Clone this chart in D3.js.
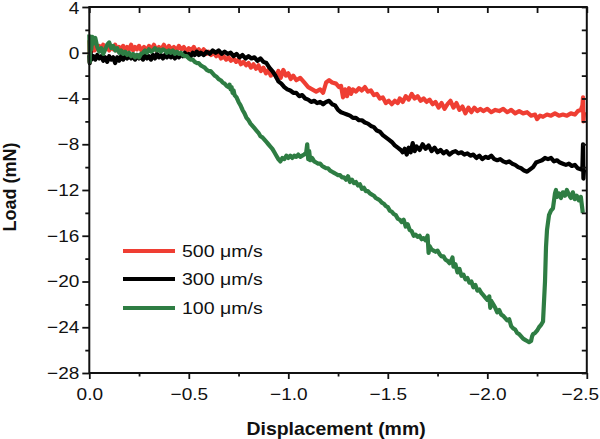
<!DOCTYPE html>
<html>
<head>
<meta charset="utf-8">
<script src="https://cdn.jsdelivr.net/npm/d3@7"></script>
<style>
  html, body { margin: 0; padding: 0; background: #fff; }
  svg { display: block; }
  text { font-family: "Liberation Sans", Arial, sans-serif; fill: #111; }
</style>
</head>
<body>
<svg id="chart" width="600" height="439"></svg>
<script>
// ---------------- data ----------------
const seriesNames = ["500 \u03bcm/s", "300 \u03bcm/s", "100 \u03bcm/s"];
const seriesColors = ["#ef3e33", "#000000", "#2e7d43"];

const disp500 = [0.000,0.002,0.005,0.010,0.018,0.026,0.034,0.042,0.050,0.060,0.070,0.080,0.090,0.100,0.110,0.120,0.130,0.140,0.150,0.160,0.170,0.180,0.190,0.200,0.210,0.220,0.230,0.240,0.250,0.262,0.275,0.288,0.300,0.312,0.325,0.338,0.350,0.362,0.375,0.388,0.400,0.412,0.425,0.438,0.450,0.462,0.475,0.488,0.500,0.512,0.525,0.538,0.550,0.562,0.575,0.588,0.600,0.612,0.625,0.638,0.650,0.662,0.675,0.688,0.700,0.712,0.725,0.738,0.750,0.762,0.775,0.788,0.800,0.812,0.825,0.838,0.850,0.862,0.875,0.888,0.900,0.912,0.925,0.938,0.950,0.962,0.975,0.988,1.000,1.012,1.025,1.040,1.060,1.080,1.100,1.120,1.140,1.160,1.175,1.190,1.205,1.220,1.240,1.255,1.265,1.275,1.285,1.295,1.305,1.315,1.325,1.340,1.355,1.370,1.385,1.400,1.415,1.430,1.445,1.460,1.475,1.490,1.505,1.520,1.535,1.550,1.560,1.575,1.590,1.605,1.620,1.635,1.650,1.665,1.680,1.695,1.710,1.725,1.740,1.755,1.770,1.785,1.800,1.815,1.830,1.845,1.860,1.875,1.890,1.905,1.920,1.935,1.950,1.965,1.980,2.000,2.020,2.040,2.060,2.080,2.100,2.120,2.140,2.160,2.180,2.200,2.220,2.240,2.250,2.265,2.280,2.300,2.320,2.340,2.360,2.380,2.400,2.420,2.440,2.455,2.470,2.478,2.481,2.483,2.486];
const load500 = [1.1,-0.8,0.9,0.1,0.6,0.2,0.7,0.3,0.6,0.2,0.7,0.3,0.5,0.2,0.6,0.3,0.7,0.2,0.5,0.3,0.6,0.2,0.5,0.3,0.7,0.2,0.5,0.3,0.6,0.2,0.5,0.2,0.6,0.3,0.7,0.2,0.5,0.3,0.7,0.2,0.6,0.3,0.5,0.2,0.6,0.3,0.5,0.1,0.4,0.2,0.5,0.1,0.3,0.0,0.3,-0.1,0.1,-0.2,0.0,-0.3,-0.1,-0.5,-0.3,-0.6,-0.4,-0.7,-0.5,-0.8,-0.6,-1.0,-0.8,-1.1,-0.9,-1.3,-1.0,-1.4,-1.1,-1.6,-1.3,-1.8,-1.5,-2.0,-1.7,-2.1,-1.6,-2.2,-1.5,-2.0,-1.8,-2.3,-2.0,-2.4,-2.2,-2.6,-3.0,-3.2,-3.4,-3.2,-3.5,-2.6,-2.4,-2.6,-2.7,-3.0,-2.9,-3.9,-3.2,-3.8,-3.1,-3.6,-3.2,-3.4,-3.1,-3.3,-3.0,-3.4,-3.3,-3.7,-3.6,-4.0,-3.9,-4.4,-4.2,-4.5,-4.2,-4.4,-4.0,-4.3,-3.8,-4.1,-3.6,-4.0,-3.8,-4.2,-4.0,-4.3,-4.1,-4.5,-4.3,-4.8,-4.4,-4.9,-4.5,-4.2,-4.8,-4.4,-5.0,-4.7,-5.3,-4.8,-5.2,-4.8,-5.1,-4.9,-5.1,-4.9,-5.2,-5.0,-5.1,-4.9,-5.2,-5.0,-5.3,-5.1,-5.3,-5.2,-5.5,-5.4,-5.8,-5.5,-5.6,-5.4,-5.5,-5.3,-5.5,-5.4,-5.5,-5.3,-5.4,-5.1,-5.0,-4.6,-3.9,-6.0,-5.2];

const disp300 = [0.000,0.002,0.005,0.010,0.020,0.030,0.040,0.050,0.060,0.070,0.080,0.090,0.100,0.110,0.120,0.130,0.140,0.150,0.160,0.170,0.180,0.190,0.200,0.210,0.220,0.230,0.240,0.250,0.260,0.270,0.280,0.290,0.300,0.310,0.320,0.330,0.340,0.350,0.360,0.370,0.380,0.390,0.400,0.410,0.420,0.430,0.440,0.450,0.460,0.470,0.480,0.490,0.500,0.510,0.520,0.530,0.540,0.550,0.560,0.575,0.590,0.605,0.620,0.635,0.650,0.665,0.680,0.695,0.710,0.725,0.740,0.755,0.770,0.785,0.800,0.815,0.830,0.845,0.860,0.875,0.890,0.905,0.920,0.935,0.950,0.965,0.980,0.995,1.010,1.025,1.040,1.055,1.070,1.085,1.100,1.115,1.130,1.145,1.160,1.175,1.190,1.205,1.220,1.235,1.250,1.265,1.280,1.295,1.310,1.325,1.340,1.355,1.370,1.385,1.400,1.415,1.430,1.445,1.460,1.475,1.490,1.505,1.520,1.535,1.550,1.565,1.575,1.585,1.595,1.605,1.615,1.625,1.635,1.645,1.660,1.675,1.690,1.705,1.720,1.735,1.750,1.765,1.780,1.795,1.810,1.825,1.840,1.855,1.870,1.885,1.900,1.915,1.930,1.945,1.960,1.975,1.990,2.005,2.020,2.035,2.050,2.065,2.080,2.095,2.110,2.125,2.140,2.155,2.170,2.185,2.200,2.215,2.230,2.245,2.260,2.275,2.290,2.305,2.320,2.335,2.350,2.365,2.380,2.395,2.410,2.425,2.440,2.455,2.470,2.478,2.481,2.483,2.486];
const load300 = [-0.2,-0.9,0.3,-0.6,-0.3,-0.6,-0.2,-0.5,-0.3,-0.7,-0.4,-0.8,-0.3,-0.6,-0.4,-0.9,-0.4,-0.7,-0.3,-0.6,-0.3,-0.5,-0.2,-0.5,-0.3,-0.6,-0.2,-0.5,-0.3,-0.6,-0.2,-0.5,-0.3,-0.6,-0.2,-0.5,-0.1,-0.4,-0.2,-0.5,-0.2,-0.4,-0.1,-0.4,-0.2,-0.5,-0.2,-0.4,-0.1,-0.3,0.0,-0.3,-0.1,-0.3,0.0,-0.2,0.1,-0.2,0.0,-0.2,0.1,-0.1,0.2,0.0,0.2,-0.1,0.1,-0.1,0.0,-0.3,-0.1,-0.4,-0.2,-0.5,-0.3,-0.5,-0.4,-0.7,-0.5,-0.8,-0.9,-1.3,-1.6,-2.0,-2.5,-2.7,-3.0,-3.2,-3.3,-3.5,-3.5,-3.8,-3.7,-4.0,-4.1,-4.3,-4.2,-4.4,-4.3,-4.5,-4.3,-4.2,-4.5,-4.6,-5.0,-5.2,-5.3,-5.4,-5.5,-5.7,-5.7,-5.9,-5.9,-6.1,-6.2,-6.4,-6.5,-6.8,-6.9,-7.2,-7.4,-7.6,-7.8,-8.1,-8.3,-8.5,-8.7,-8.4,-8.9,-8.3,-8.7,-7.9,-8.6,-8.2,-8.5,-8.0,-8.4,-8.1,-8.6,-8.3,-8.7,-8.5,-8.8,-8.6,-8.9,-8.7,-8.6,-8.8,-8.7,-8.9,-8.8,-9.0,-8.9,-9.2,-9.0,-9.3,-9.1,-9.2,-9.0,-9.3,-9.4,-9.3,-9.5,-9.6,-9.5,-9.7,-9.8,-10.0,-10.1,-10.3,-10.4,-10.2,-10.0,-9.6,-9.5,-9.4,-9.2,-9.3,-9.2,-9.5,-9.4,-9.6,-9.7,-9.8,-9.7,-9.9,-9.8,-10.1,-10.2,-10.0,-8.0,-11.0,-10.2];

const disp100 = [0.000,0.002,0.005,0.010,0.015,0.020,0.030,0.040,0.050,0.060,0.070,0.080,0.090,0.100,0.110,0.120,0.130,0.140,0.150,0.160,0.170,0.180,0.190,0.200,0.210,0.220,0.230,0.240,0.250,0.260,0.270,0.280,0.290,0.300,0.310,0.320,0.330,0.340,0.350,0.360,0.370,0.380,0.390,0.400,0.410,0.420,0.430,0.440,0.450,0.460,0.470,0.480,0.490,0.500,0.510,0.520,0.530,0.540,0.550,0.560,0.570,0.580,0.590,0.600,0.610,0.620,0.630,0.640,0.650,0.660,0.670,0.680,0.690,0.700,0.705,0.710,0.715,0.720,0.725,0.730,0.740,0.750,0.760,0.770,0.780,0.790,0.800,0.810,0.820,0.830,0.840,0.850,0.860,0.870,0.880,0.890,0.900,0.910,0.920,0.930,0.940,0.950,0.960,0.970,0.980,0.990,1.000,1.010,1.020,1.030,1.040,1.050,1.060,1.070,1.080,1.090,1.095,1.100,1.105,1.110,1.120,1.130,1.140,1.150,1.160,1.170,1.180,1.190,1.200,1.210,1.220,1.230,1.240,1.250,1.260,1.270,1.280,1.290,1.300,1.310,1.320,1.330,1.340,1.350,1.360,1.370,1.380,1.390,1.400,1.410,1.420,1.430,1.440,1.450,1.460,1.470,1.480,1.490,1.500,1.510,1.520,1.530,1.540,1.550,1.560,1.570,1.580,1.590,1.600,1.610,1.620,1.630,1.640,1.650,1.660,1.670,1.680,1.690,1.700,1.705,1.710,1.720,1.730,1.740,1.750,1.760,1.770,1.780,1.790,1.800,1.810,1.820,1.825,1.830,1.840,1.850,1.860,1.870,1.880,1.890,1.900,1.910,1.920,1.930,1.940,1.950,1.960,1.970,1.980,1.990,2.000,2.010,2.015,2.020,2.030,2.040,2.050,2.060,2.070,2.080,2.090,2.100,2.110,2.120,2.130,2.140,2.150,2.160,2.170,2.180,2.190,2.200,2.210,2.220,2.225,2.230,2.240,2.250,2.260,2.270,2.280,2.290,2.295,2.300,2.310,2.320,2.330,2.340,2.345,2.350,2.360,2.370,2.380,2.390,2.400,2.410,2.420,2.430,2.440,2.450,2.460,2.470,2.475,2.480];
const load100 = [1.6,-0.8,1.2,0.3,1.4,0.8,1.3,0.5,0.1,0.4,-0.1,0.3,0.7,0.9,0.4,0.6,0.2,0.4,0.0,0.2,-0.1,0.1,-0.2,0.0,-0.3,-0.1,-0.4,-0.2,-0.4,-0.1,0.0,0.2,0.0,0.3,0.1,0.2,0.4,0.2,0.3,0.1,0.3,0.2,0.0,0.2,0.0,0.2,-0.1,0.1,-0.1,0.0,-0.2,-0.3,-0.3,-0.5,-0.6,-0.6,-0.8,-0.9,-0.9,-1.1,-1.2,-1.3,-1.5,-1.6,-1.6,-1.8,-2.0,-2.1,-2.3,-2.4,-2.6,-2.7,-2.9,-3.0,-2.8,-3.2,-3.0,-3.5,-3.3,-3.7,-3.9,-4.3,-4.6,-5.0,-5.3,-5.7,-5.9,-6.2,-6.4,-6.6,-6.8,-7.0,-7.3,-7.4,-7.6,-7.8,-8.0,-8.2,-8.4,-8.7,-9.0,-9.3,-9.5,-9.2,-9.3,-9.0,-9.2,-9.0,-9.2,-9.0,-9.1,-8.9,-9.1,-9.0,-8.9,-8.7,-8.0,-9.3,-8.6,-9.4,-9.2,-9.5,-9.6,-9.7,-9.7,-9.9,-10.0,-10.1,-10.1,-10.3,-10.4,-10.5,-10.6,-10.7,-10.7,-10.9,-10.9,-11.1,-10.8,-11.3,-11.1,-11.4,-11.3,-11.6,-11.5,-11.9,-11.8,-12.1,-12.1,-12.3,-12.4,-12.5,-12.7,-12.8,-12.9,-13.1,-13.2,-13.4,-13.5,-13.8,-13.9,-14.1,-14.2,-14.5,-14.6,-14.8,-14.6,-15.2,-15.0,-15.5,-15.6,-16.0,-15.9,-16.1,-16.0,-16.3,-16.2,-16.4,-16.0,-17.5,-16.9,-17.2,-17.3,-17.4,-17.3,-17.6,-17.8,-17.8,-18.1,-18.2,-18.4,-18.1,-17.9,-18.7,-18.5,-19.2,-18.9,-19.5,-19.4,-19.8,-19.7,-20.1,-20.0,-20.5,-20.3,-20.8,-20.7,-21.0,-21.2,-21.4,-21.6,-21.3,-22.3,-21.7,-22.0,-22.3,-22.7,-22.5,-22.9,-23.0,-23.2,-23.4,-23.3,-23.9,-24.1,-24.2,-24.5,-24.6,-24.8,-25.0,-25.1,-25.2,-25.3,-25.2,-24.8,-24.6,-24.5,-24.3,-24.0,-23.8,-23.5,-20.0,-17.0,-15.5,-14.2,-13.8,-13.6,-12.3,-12.0,-12.6,-12.3,-12.7,-12.2,-12.5,-12.0,-12.4,-12.7,-12.2,-12.8,-12.5,-12.9,-12.6,-13.3,-14.0];

const xMajorTicks = [0, -0.5, -1.0, -1.5, -2.0, -2.5];
const xMinorTicks = [-0.25, -0.75, -1.25, -1.75, -2.25];
const yMajorTicks = [4, 0, -4, -8, -12, -16, -20, -24, -28];
const yMinorTicks = [2, -2, -6, -10, -14, -18, -22, -26];

// ---------------- layout ----------------
const svg = d3.select("#chart");
const L = 89.3, R = 586.8, T = 7, B = 373;
const x = d3.scaleLinear().domain([0, -2.5]).range([L, R]);
const y = d3.scaleLinear().domain([-28, 4]).range([B, T]);
const SX = 1.12; // horizontal stretch of the original lettering

// series lines
const series = [
  { d: disp500, v: load500 },
  { d: disp300, v: load300 },
  { d: disp100, v: load100 }
];
const line = d3.line().x(p => x(-p[0])).y(p => y(p[1]));
[0, 1, 2].forEach(i => {
  const pts = series[i].d.map((d, k) => [d, series[i].v[k]]);
  svg.append("path")
    .datum(pts)
    .attr("d", line)
    .attr("fill", "none")
    .attr("stroke", seriesColors[i])
    .attr("stroke-width", 4.2)
    .attr("stroke-linejoin", "round")
    .attr("stroke-linecap", "butt");
});

// axes
function styleAxis(g) {
  g.selectAll("path.domain").remove();
  g.selectAll("line").attr("stroke", "#111").attr("stroke-width", 1.8);
}
const fmtX = d3.format(".1f");
const fmtY = d3.format("d");

// bottom major
const gb = svg.append("g").attr("transform", `translate(0,${B})`)
  .call(d3.axisBottom(x).tickValues(xMajorTicks).tickSize(6).tickFormat(fmtX));
styleAxis(gb);
gb.selectAll("text")
  .attr("y", 27).attr("dy", 0)
  .attr("x", (d, i) => i === xMajorTicks.length - 1 ? -7 / SX : 0)
  .attr("font-size", 17)
  .attr("transform", `scale(${SX},1)`)
  .style("fill", "#111");
// bottom minor
const gbm = svg.append("g").attr("transform", `translate(0,${B})`)
  .call(d3.axisBottom(x).tickValues(xMinorTicks).tickSize(3.5).tickFormat(""));
styleAxis(gbm);

// top ticks (inward)
const gt = svg.append("g").attr("transform", `translate(0,${T})`)
  .call(d3.axisTop(x).tickValues(xMajorTicks.concat(xMinorTicks)).tickSize(-6).tickFormat(""));
styleAxis(gt);

// left major
const gl = svg.append("g").attr("transform", `translate(${L},0)`)
  .call(d3.axisLeft(y).tickValues(yMajorTicks).tickSize(7).tickFormat(fmtY));
styleAxis(gl);
gl.selectAll("text")
  .attr("x", -10 / SX)
  .attr("dy", (d, i) => i === 0 ? "0.40em" : "0.32em")
  .attr("font-size", 17)
  .attr("transform", `scale(${SX},1)`)
  .style("fill", "#111");
// left minor
const glm = svg.append("g").attr("transform", `translate(${L},0)`)
  .call(d3.axisLeft(y).tickValues(yMinorTicks).tickSize(4).tickFormat(""));
styleAxis(glm);

// right ticks (inward)
const gr = svg.append("g").attr("transform", `translate(${R},0)`)
  .call(d3.axisRight(y).tickValues(yMajorTicks.concat(yMinorTicks)).tickSize(-5).tickFormat(""));
styleAxis(gr);

// frame
svg.append("rect")
  .attr("x", L).attr("y", T).attr("width", R - L).attr("height", B - T)
  .attr("fill", "none").attr("stroke", "#111").attr("stroke-width", 2);

// axis titles
svg.append("g").attr("transform", `translate(${(L + R) / 2 - 2},435)`)
  .append("text")
  .attr("text-anchor", "middle")
  .attr("font-size", 18).attr("font-weight", "bold")
  .attr("transform", `scale(1.08,1)`)
  .text("Displacement (mm)");

svg.append("g").attr("transform", `translate(16,${(T + B) / 2 - 3}) rotate(-90)`)
  .append("text")
  .attr("text-anchor", "middle")
  .attr("font-size", 18).attr("font-weight", "bold")
  .text("Load (mN)");

// legend
const legY = [251, 279, 308];
seriesNames.forEach((name, i) => {
  svg.append("line")
    .attr("x1", 123).attr("x2", 175)
    .attr("y1", legY[i]).attr("y2", legY[i])
    .attr("stroke", seriesColors[i]).attr("stroke-width", 4);
  svg.append("g").attr("transform", `translate(182,${legY[i] + 6})`)
    .append("text")
    .attr("font-size", 17)
    .attr("transform", `scale(1.15,1)`)
    .text(name);
});
</script>
</body>
</html>
